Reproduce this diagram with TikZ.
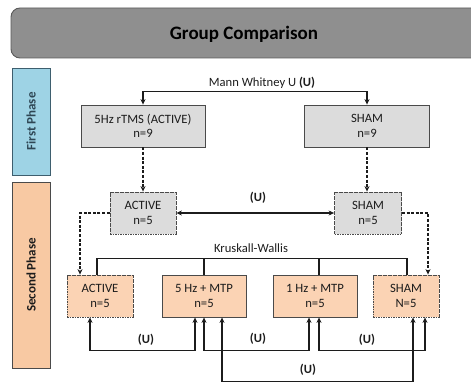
\documentclass[tikz,border=0pt]{standalone}
\usepackage{fontspec}
\setmainfont{Carlito}
\usetikzlibrary{arrows.meta}

\definecolor{bannerfill}{HTML}{8F8F8F}
\definecolor{bannerline}{HTML}{5A5A5A}
\definecolor{phaseblue}{HTML}{9ED3E5}
\definecolor{phaseblueline}{HTML}{3E5E6E}
\definecolor{phasetextblue}{HTML}{2E4654}
\definecolor{phasepeach}{HTML}{F8C9A3}
\definecolor{boxgray}{HTML}{DCDCDC}
\definecolor{boxpeach}{HTML}{FBD3B4}
\definecolor{edge}{HTML}{4A4A4A}
\definecolor{ink}{HTML}{1C1C1C}

\tikzset{
  grp/.style={draw=edge, line width=0.8pt, minimum height=42pt, align=center,
    inner sep=0pt, font=\fontsize{12.7}{14.5}\selectfont, text=ink},
  grayfill/.style={grp, fill=boxgray},
  peachfill/.style={grp, fill=boxpeach},
  dotedge/.style={dash pattern=on 1.6pt off 0.9pt},
  phasebar/.style={line width=0.9pt, minimum width=#1, minimum height=38pt,
    rotate=90, inner sep=0pt, font=\fontsize{13}{15}\selectfont\bfseries},
  link/.style={draw=ink, line width=1.3pt},
  ulink/.style={link, {Stealth[length=5.5pt,width=5pt]}-{Stealth[length=5.5pt,width=5pt]}},
  dlink/.style={link, line width=1.2pt, dash pattern=on 3pt off 1.6pt,
    -{Stealth[length=5.5pt,width=5pt]}},
  lbl/.style={font=\fontsize{12.6}{14}\selectfont, text=ink, inner sep=1pt},
  ulbl/.style={lbl, font=\fontsize{12.6}{14}\selectfont\bfseries}
}

\begin{document}
\begin{tikzpicture}[x=1pt, y=-1pt]
\useasboundingbox (0,0) rectangle (471,382);
\clip (0,0) rectangle (471,382);

% title banner, running off the right edge
\path[fill=bannerfill, draw=bannerline, line width=0.9pt, rounded corners=9pt]
  (11,8) rectangle (500,58);
\node[font=\fontsize{19}{21}\selectfont\bfseries, text=black] (title) at (244,34) {Group Comparison};

% phase side bars
\node[phasebar=107pt, fill=phaseblue, draw=phaseblueline, text=phasetextblue] (ph1) at (31,121.5) {First Phase};
\node[phasebar=186pt, fill=phasepeach, draw=edge, text=ink] (ph2) at (31,275) {Second Phase};

% first phase groups
\node[grayfill, minimum width=124pt] (act1) at (143,126) {5Hz rTMS (ACTIVE)\\n=9};
\node[grayfill, minimum width=125pt] (sham1) at (367,126) {SHAM\\n=9};

% subgroups carried into the second phase
\node[grayfill, dotedge, minimum width=66pt] (act2) at (143,213) {ACTIVE\\n=5};
\node[grayfill, dotedge, minimum width=67pt] (sham2) at (368,213) {SHAM\\n=5};

% second phase groups
\node[peachfill, dotedge, minimum width=66pt] (act3) at (100,296) {ACTIVE\\n=5};
\node[peachfill, minimum width=84pt] (hz5) at (204,296) {5 Hz + MTP\\n=5};
\node[peachfill, minimum width=84pt] (hz1) at (315,296) {1 Hz + MTP\\n=5};
\node[peachfill, dotedge, minimum width=66pt] (sham3) at (406,296) {SHAM\\N=5};

% Mann Whitney between the first phase groups
\node[lbl] (mw) at (262,83) {Mann Whitney U \textbf{(U)}};
\draw[ulink] (act1.north) -- ++(0,-13) -| (sham1.north);

% first phase to second phase
\draw[dlink] (act1.south) -- (act2.north);
\draw[dlink] (sham1.south) -- (sham1.south |- sham2.north);
\draw[ulink] (act2.east) -- (sham2.west);
\node[ulbl] (u1) at (258,198) {(U)};
\draw[dlink] (act2.west) -| ([xshift=-20pt]act3.north);
\draw[dlink] (sham2.east) -| ([xshift=22pt]sham3.north);

% Kruskall-Wallis across all four groups
\node[lbl] (kw) at (251,248) {Kruskall-Wallis};
\draw[link] ([xshift=-3pt]act3.north) -- ++(0,-16) -| ([xshift=1pt]sham3.north);
\draw[link] (hz5.north) -- ++(0,-16);
\draw[link] ([xshift=4pt]hz1.north) -- ++(0,-16);

% pairwise Mann Whitney comparisons
\draw[ulink] ([xshift=-10pt]act3.south) -- ++(0,33) -| ([xshift=-9pt]hz5.south);
\node[ulbl] (u2) at (146,340) {(U)};
\draw[ulink] (hz5.south) -- ++(0,33) -| ([xshift=-6pt]hz1.south);
\node[ulbl] (u3) at (258,339) {(U)};
\draw[ulink] ([xshift=4pt]hz1.south) -- ++(0,33) -| ([xshift=19pt]sham3.south);
\node[ulbl] (u4) at (367,340) {(U)};
\draw[ulink] ([xshift=18pt]hz5.south) -- ++(0,64) -| ([xshift=7pt]sham3.south);
\node[ulbl] (u5) at (308,370) {(U)};
\end{tikzpicture}
\end{document}
